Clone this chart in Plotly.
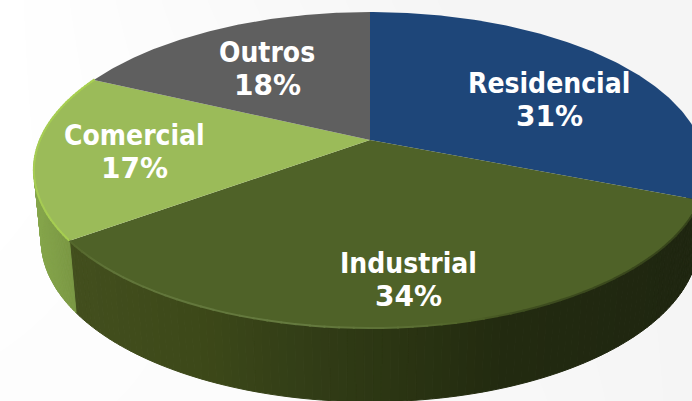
import numpy as np
import plotly.graph_objects as go

categories = ["Residencial", "Industrial", "Comercial", "Outros"]
shares = [31, 34, 17, 18]
top_colors = ["#1E4679", "#4F6228", "#9BBB59", "#5F5F5F"]

# wall shading per slice, as (pixel x, colour) stops
wall_stops = [
    [(600, "#0F2540"), (720, "#0F2540")],
    [(72, "#434F1E"), (200, "#3D4919"), (300, "#333E17"), (400, "#2B3513"), (500, "#232B10"), (700, "#1F2610")],
    [(34, "#86A64C"), (78, "#789542")],
    [(0, "#5A5A5A"), (700, "#5A5A5A")],
]

# bevel along the top rim of the slices that face the viewer
rim_stops = {
    1: [(72, "#55682C"), (110, "#61753A"), (300, "#667B40"), (420, "#5A6E33"), (470, "#4F6228"),
        (520, "#3F4E20"), (700, "#36431B")],
    2: [(34, "#A6CC55"), (78, "#A8D050")],
}

bg_z = [[0.0, 0.5, 1.0, 1.0],
        [0.0, 0.3, 0.8, 1.0],
        [0.2, 0.3, 0.6, 1.0]]

# perspective of the pie, in pixels
CX, CY = 370, 140
RX, RY = 330, 152.3
TILT = 0.19
DEPTH = 70
BOTTOM_SX = 0.978
BOTTOM_SY = 1.02


def project(theta, bottom=False):
    w = 1 + TILT * np.cos(theta)
    x = RX * np.sin(theta) / w
    y = -RY * np.cos(theta) / w
    if bottom:
        return CX + BOTTOM_SX * x, CY + DEPTH + BOTTOM_SY * y
    return CX + x, CY + y


def shade(stops, x):
    xs = [s[0] for s in stops]
    rgb = [[int(s[1][i:i + 2], 16) for i in (1, 3, 5)] for s in stops]
    return "rgb(%d,%d,%d)" % tuple(np.interp(x, xs, [c[i] for c in rgb]) for i in range(3))


edges = np.radians(np.cumsum([0] + shares) * 3.6)

fig = go.Figure()

fig.add_trace(go.Heatmap(
    z=bg_z, x=[0, 230, 460, 692], y=[0, 200, 401], zsmooth="best", zmin=0, zmax=1,
    colorscale=[[0, "#FFFFFF"], [1, "#F5F5F5"]], showscale=False, hoverinfo="skip",
))

# side walls first, the top goes over them
for i in range(len(shares)):
    t = np.linspace(edges[i], edges[i + 1], 100)
    for a, b in zip(t[:-1], t[1:]):
        if np.cos((a + b) / 2) > 0.1:
            continue
        x1, y1 = project(np.linspace(a, b, 3))
        x2, y2 = project(np.linspace(b, a, 3), bottom=True)
        xs = np.concatenate([x1, x2, x1[:1]])
        ys = np.concatenate([y1, y2, y1[:1]])
        col = shade(wall_stops[i], x1.mean())
        fig.add_trace(go.Scatter(
            x=xs, y=ys, mode="lines", fill="toself", line=dict(width=1, color=col),
            fillcolor=col, hoverinfo="skip",
        ))

for i, name in enumerate(categories):
    t = np.linspace(edges[i], edges[i + 1], 160)
    x, y = project(t)
    fig.add_trace(go.Scatter(
        x=np.concatenate([[CX], x, [CX]]), y=np.concatenate([[CY], y, [CY]]),
        mode="lines", fill="toself", line=dict(width=0), fillcolor=top_colors[i],
        name=name, hoverinfo="name",
    ))

for i, stops in rim_stops.items():
    t = np.linspace(edges[i], edges[i + 1], 60)
    for a, b in zip(t[:-1], t[1:]):
        seg = np.linspace(a, b + 0.005, 3)
        x, y = project(seg)
        fig.add_trace(go.Scatter(
            x=x, y=y, mode="lines", line=dict(width=2, color=shade(stops, x.mean())),
            hoverinfo="skip",
        ))

# label centres in pixels
label_pos = {"Residencial": (549, 100), "Industrial": (408, 280), "Comercial": (134, 152), "Outros": (267, 69)}
for name, share in zip(categories, shares):
    lx, ly = label_pos[name]
    fig.add_annotation(
        x=lx, y=ly - 16.5, text=f"<b>{name}</b>", showarrow=False,
        font=dict(family="DejaVu Sans Condensed, DejaVu Sans", size=28, color="white"),
    )
    fig.add_annotation(
        x=lx, y=ly + 16.5, text=f"<b>{share}%</b>", showarrow=False,
        font=dict(family="DejaVu Sans", size=28, color="white"),
    )

fig.update_xaxes(range=[0, 692], visible=False, fixedrange=True)
fig.update_yaxes(range=[401, 0], visible=False, fixedrange=True)
fig.update_layout(
    width=692, height=401, margin=dict(l=0, r=0, t=0, b=0), showlegend=False,
    paper_bgcolor="#FFFFFF", plot_bgcolor="#FFFFFF",
)

fig.write_html("out.html", config={"displayModeBar": False},
               post_script="document.body.style.margin='0';document.body.style.overflow='hidden';")
